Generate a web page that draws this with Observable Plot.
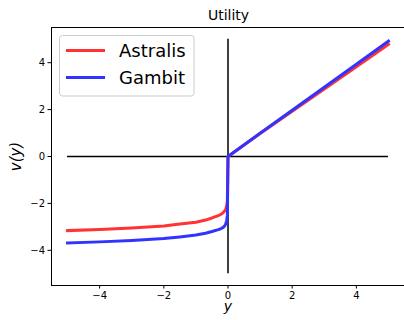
<!DOCTYPE html>
<html>
<head>
<meta charset="utf-8">
<script src="https://cdn.jsdelivr.net/npm/d3@7"></script>
<script src="https://cdn.jsdelivr.net/npm/@observablehq/plot@0.6"></script>
<style>
  html, body { margin: 0; padding: 0; background: #fff; }
  #chart { width: 404px; height: 320px; overflow: hidden; }
</style>
</head>
<body>
<div id="chart"></div>
<script>
// ---- data ----
const seriesNames = ["Astralis", "Gambit"];
const seriesColors = ["#ff3333", "#3333ff"];
const xValues = [-5, -4, -3, -2, -1.5, -1, -0.7, -0.5, -0.3, -0.2, -0.15, -0.1, -0.07, -0.04, -0.02, 0, 1, 2, 3, 4, 5];
const astralisValues = [-3.16, -3.11, -3.05, -2.96, -2.88, -2.8, -2.71, -2.62, -2.52, -2.45, -2.39, -2.31, -2.24, -2.1, -1.9, 0, 0.98, 1.93, 2.88, 3.83, 4.78];
const gambitValues = [-3.69, -3.64, -3.58, -3.5, -3.43, -3.35, -3.27, -3.2, -3.12, -3.06, -3.02, -2.95, -2.87, -2.72, -2.5, 0, 0.99, 1.97, 2.95, 3.93, 4.92];
const xTicks = [-4, -2, 0, 2, 4];
const yTicks = [-4, -2, 0, 2, 4];
const refH = [-5, 5];   // horizontal reference line at v=0
const refV = [-5, 5];   // vertical reference line at y=0
const titleText = "Utility";

const rows = [];
xValues.forEach((x, i) => {
  rows.push({series: "Astralis", x, v: astralisValues[i]});
  rows.push({series: "Gambit", x, v: gambitValues[i]});
});

const fmt = d => d < 0 ? "\u2212" + Math.abs(d) : String(d);
const font = "DejaVu Sans, sans-serif";

const plot = Plot.plot({
  width: 404,
  height: 320,
  marginLeft: 51,
  marginRight: 0,
  marginTop: 27,
  marginBottom: 35,
  style: {fontFamily: font, fontSize: "10px", background: "#fff", color: "#000", overflow: "visible"},
  x: {domain: [-5.5, 5.5], label: null},
  y: {domain: [-5.5, 5.5], label: null},
  color: {domain: seriesNames, range: seriesColors},
  marks: [
    Plot.ruleY([0], {x1: refH[0], x2: refH[1], stroke: "#000", strokeWidth: 1.5}),
    Plot.ruleX([0], {y1: refV[0], y2: refV[1], stroke: "#000", strokeWidth: 1.5}),
    Plot.line(rows, {x: "x", y: "v", z: "series", stroke: "series", strokeWidth: 3, curve: "linear", strokeLinecap: "square"}),
    Plot.ruleX([-5.5], {stroke: "#000", strokeWidth: 1}),
    Plot.ruleY([-5.5, 5.5], {stroke: "#000", strokeWidth: 1}),
    Plot.axisX({ticks: xTicks, tickFormat: fmt, tickSize: 3.5, tickPadding: 2.5, label: null, fontSize: 10}),
    Plot.axisY({ticks: yTicks, tickFormat: fmt, tickSize: 3.5, tickPadding: 3, label: null, fontSize: 10})
  ]
});

document.getElementById("chart").appendChild(plot);

// ---- title, axis labels, legend ----
const svg = d3.select(plot);
svg.append("text").attr("x", 228.5).attr("y", 19.5).attr("text-anchor", "middle")
  .attr("font-family", font).attr("font-size", 14).attr("fill", "#000").text(titleText);

svg.append("text").attr("transform", "translate(21,156.5) rotate(-90)").attr("text-anchor", "middle")
  .attr("font-family", font).attr("font-size", 15).attr("font-style", "italic").attr("fill", "#000").text("v(y)");

svg.append("text").attr("x", 228).attr("y", 311).attr("text-anchor", "middle")
  .attr("font-family", font).attr("font-size", 14).attr("font-style", "italic").attr("fill", "#000").text("y");

const lg = svg.append("g");
lg.append("rect").attr("x", 59.5).attr("y", 35.5).attr("width", 134.5).attr("height", 60.5)
  .attr("rx", 3).attr("fill", "#fff").attr("fill-opacity", 0.8).attr("stroke", "#ccc").attr("stroke-width", 1);
const lgY = [50.5, 77.5];
seriesNames.forEach((name, i) => {
  lg.append("line").attr("x1", 66).attr("x2", 105).attr("y1", lgY[i]).attr("y2", lgY[i])
    .attr("stroke", seriesColors[i]).attr("stroke-width", 3);
  lg.append("text").attr("x", 119).attr("y", lgY[i] + 6.5).attr("text-anchor", "start")
    .attr("font-family", font).attr("font-size", 18).attr("fill", "#000").text(name);
});
</script>
</body>
</html>
